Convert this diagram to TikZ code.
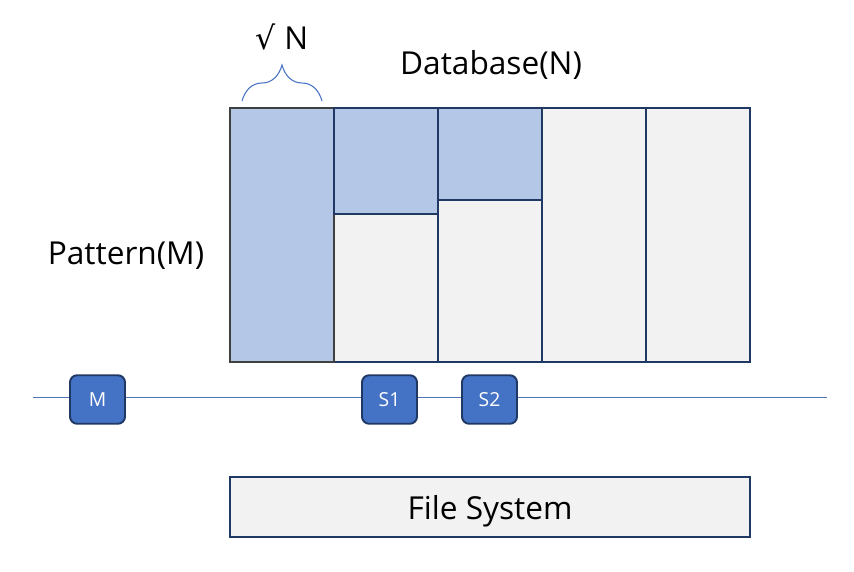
\documentclass[tikz,border=0pt]{standalone}
\usepackage{fontspec}
\setmainfont{Open Sans}
\newfontfamily\symfont{DejaVu Sans}
\usepackage{tikz}
\usetikzlibrary{positioning, decorations.pathreplacing}
\definecolor{lightblue}{HTML}{B4C7E7}
\definecolor{midblue}{HTML}{4472C4}
\definecolor{navy}{HTML}{1F3864}
\definecolor{cellgray}{HTML}{F2F2F2}
\tikzset{
x=0.02cm, y=-0.02cm, % one unit is one pixel of the reference
cell/.style={draw=navy, line width=1.1pt, fill=cellgray}, % a part of the database
hit/.style={draw=navy, line width=1.1pt, fill=lightblue}, % the part that is read
tag/.style={draw=navy, line width=1.1pt, fill=midblue, rounded corners=4pt, text=white,
  minimum width=1.1cm, minimum height=0.97cm, font=\fontsize{11}{13}\selectfont},
label/.style={font=\fontsize{18}{21}\selectfont},
}
\begin{document}
\begin{tikzpicture}
        \useasboundingbox (0,0) rectangle (854,571);
        %% the database, cut into columns
        \draw[cell] (334,108) rectangle (438,362);
        \draw[cell] (438,108) rectangle (542,362);
        \draw[cell] (542,108) rectangle (646,362);
        \draw[cell] (646,108) rectangle (750,362);
        \draw[hit, draw=black!75] (230,108) rectangle (334,362);
        \draw[hit] (334,108) rectangle (438,214);
        \draw[hit] (438,108) rectangle (542,200);
        %% brace over the first column
        \draw[midblue, line width=0.6pt, decorate, decoration={brace, amplitude=0.72cm, aspect=0.5}]
            (242,101) -- (322,101);
        \node[label] (root) at (282,37) {{\symfont √} N};
        \node[label] (db) at (491,65) {Database(N)};
        \node[label] (pattern) at (126,256) {Pattern(M)};
        %% the line with the machines on it
        \coordinate (west) at (33,397);
        \coordinate (east) at (827,397);
        \draw[midblue!80!gray, line width=0.5pt] (west) -- (east);
        \node[tag] (m) at (97.5,399.5) {M};
        \node[tag] (s1) at (389.5,399.5) {S1};
        \node[tag] (s2) at (489.5,399.5) {S2};
        %% the file system below
        \node[cell, label, text depth=0pt, minimum width=10.4cm, minimum height=1.2cm] (fs) at (490,507) {File System};
\end{tikzpicture}
\end{document}
